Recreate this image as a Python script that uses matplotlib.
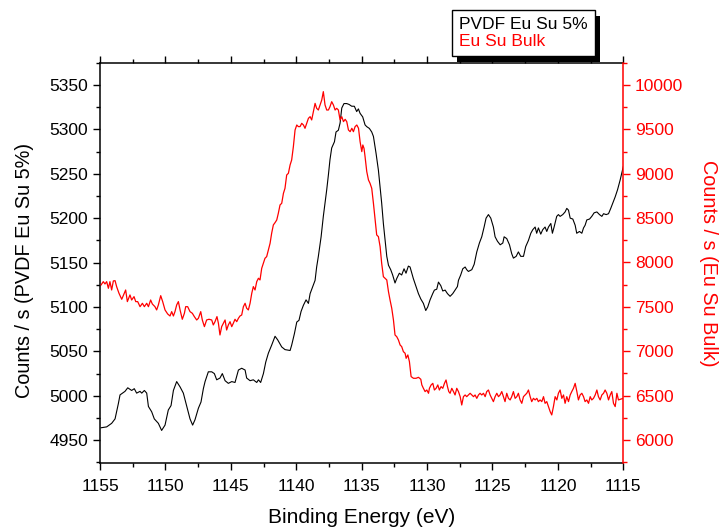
import matplotlib
matplotlib.use("Agg")
import matplotlib.pyplot as plt
from matplotlib.ticker import MultipleLocator
from matplotlib.lines import Line2D
from matplotlib.patches import Rectangle

plt.rcParams['font.family'] = ['Liberation Sans', 'DejaVu Sans']

# PVDF Eu Su 5% spectrum (binding energy in eV, counts / s)
energy_pvdf = [
    1154.92, 1154.49, 1154.11, 1153.85, 1153.60, 1153.47, 1153.09, 1152.88, 1152.58, 1152.38,
    1152.20, 1151.94, 1151.81, 1151.61, 1151.43, 1151.30, 1151.05, 1150.85, 1150.54, 1150.29,
    1150.03, 1149.78, 1149.57, 1149.39, 1149.14, 1148.88, 1148.63, 1148.37, 1148.12, 1147.92,
    1147.74, 1147.48, 1147.28, 1147.10, 1146.97, 1146.72, 1146.46, 1146.26, 1146.08, 1145.83,
    1145.65, 1145.44, 1145.19, 1144.93, 1144.68, 1144.42, 1144.17, 1143.91, 1143.79, 1143.53,
    1143.28, 1143.02, 1142.89, 1142.72, 1142.51, 1142.33, 1142.13, 1141.88, 1141.62, 1141.42,
    1141.11, 1140.86, 1140.47, 1140.35, 1140.14, 1139.96, 1139.79, 1139.63, 1139.45, 1139.25,
    1139.07, 1138.94, 1138.69, 1138.56, 1138.44, 1138.31, 1138.10, 1137.93, 1137.80, 1137.67,
    1137.54, 1137.42, 1137.29, 1137.08, 1136.96, 1136.78, 1136.65, 1136.52, 1136.35, 1136.14,
    1135.96, 1135.76, 1135.56, 1135.38, 1135.25, 1135.12, 1134.92, 1134.74, 1134.61, 1134.41,
    1134.23, 1134.10, 1133.90, 1133.72, 1133.59, 1133.47, 1133.34, 1133.21, 1133.08, 1132.95,
    1132.78, 1132.63, 1132.45, 1132.32, 1132.12, 1131.94, 1131.76, 1131.61, 1131.43, 1131.30,
    1131.17, 1131.05, 1130.84, 1130.66, 1130.48, 1130.28, 1130.10, 1129.95, 1129.77, 1129.57,
    1129.44, 1129.26, 1129.13, 1128.95, 1128.80, 1128.62, 1128.44, 1128.24, 1128.04, 1127.86,
    1127.68, 1127.60, 1127.43, 1127.27, 1127.09, 1126.97, 1126.84, 1126.58, 1126.40, 1126.20,
    1126.00, 1125.82, 1125.64, 1125.49, 1125.31, 1125.13, 1124.93, 1124.80, 1124.62, 1124.41,
    1124.21, 1124.11, 1123.91, 1123.70, 1123.53, 1123.40, 1123.19, 1123.02, 1122.84, 1122.63,
    1122.46, 1122.25, 1122.07, 1121.92, 1121.74, 1121.62, 1121.49, 1121.31, 1121.16, 1120.98,
    1120.85, 1120.72, 1120.54, 1120.42, 1120.29, 1120.09, 1119.96, 1119.83, 1119.63, 1119.45,
    1119.32, 1119.19, 1119.06, 1118.86, 1118.68, 1118.56, 1118.35, 1118.17, 1118.04, 1117.92,
    1117.79, 1117.58, 1117.41, 1117.23, 1117.02, 1116.82, 1116.64, 1116.51, 1116.31, 1116.13,
    1115.96, 1115.80, 1115.62, 1115.44, 1115.24, 1115.11, 1115.00,
]
counts_pvdf = [
    4964, 4965, 4969, 4974, 4991, 5001, 5005, 5009, 5006, 5008,
    5003, 5005, 5003, 5006, 5003, 4988, 4982, 4974, 4969, 4961,
    4967, 4984, 4989, 5006, 5016, 5010, 5003, 4988, 4974, 4967,
    4973, 4986, 4993, 5008, 5016, 5027, 5027, 5025, 5018, 5020,
    5025, 5017, 5014, 5016, 5015, 5029, 5031, 5029, 5020, 5017,
    5018, 5015, 5018, 5015, 5025, 5038, 5048, 5057, 5067, 5063,
    5055, 5052, 5051, 5057, 5070, 5083, 5085, 5095, 5102, 5108,
    5104, 5115, 5125, 5130, 5145, 5157, 5179, 5202, 5217, 5232,
    5249, 5266, 5279, 5286, 5297, 5299, 5307, 5324, 5329, 5329,
    5328, 5326, 5326, 5320, 5323, 5318, 5314, 5305, 5303, 5301,
    5297, 5292, 5273, 5254, 5235, 5217, 5194, 5175, 5157, 5147,
    5142, 5136, 5127, 5132, 5138, 5136, 5143, 5138, 5146, 5145,
    5138, 5132, 5123, 5115, 5109, 5104, 5096, 5100, 5108, 5115,
    5119, 5120, 5128, 5124, 5118, 5119, 5115, 5112, 5115, 5119,
    5123, 5130, 5136, 5143, 5145, 5142, 5140, 5142, 5148, 5162,
    5172, 5179, 5190, 5200, 5204, 5200, 5190, 5179, 5174, 5170,
    5172, 5179, 5177, 5170, 5160, 5155, 5157, 5162, 5157, 5157,
    5168, 5175, 5183, 5187, 5190, 5183, 5189, 5182, 5187, 5190,
    5185, 5190, 5194, 5183, 5190, 5202, 5204, 5202, 5204, 5207,
    5211, 5209, 5200, 5199, 5192, 5183, 5185, 5183, 5189, 5192,
    5198, 5199, 5202, 5206, 5207, 5204, 5202, 5205, 5204, 5205,
    5211, 5217, 5224, 5232, 5243, 5251, 5258,
]

# Eu Su Bulk spectrum (binding energy in eV, counts / s)
energy_bulk = [
    1154.92, 1154.75, 1154.62, 1154.49, 1154.36, 1154.24, 1154.11, 1153.98, 1153.85, 1153.73,
    1153.55, 1153.34, 1153.14, 1153.04, 1152.91, 1152.71, 1152.58, 1152.40, 1152.27, 1152.12,
    1151.94, 1151.76, 1151.61, 1151.43, 1151.30, 1151.13, 1151.00, 1150.80, 1150.67, 1150.54,
    1150.36, 1150.21, 1150.03, 1149.83, 1149.65, 1149.52, 1149.39, 1149.27, 1149.14, 1149.01,
    1148.88, 1148.71, 1148.55, 1148.45, 1148.30, 1148.12, 1147.94, 1147.79, 1147.61, 1147.48,
    1147.30, 1147.18, 1147.02, 1146.85, 1146.67, 1146.46, 1146.34, 1146.21, 1146.06, 1145.95,
    1145.83, 1145.70, 1145.57, 1145.44, 1145.32, 1145.19, 1145.06, 1144.93, 1144.81, 1144.68,
    1144.55, 1144.42, 1144.30, 1144.17, 1144.04, 1143.91, 1143.79, 1143.66, 1143.53, 1143.40,
    1143.28, 1143.15, 1143.02, 1142.89, 1142.77, 1142.64, 1142.51, 1142.39, 1142.26, 1142.13,
    1142.00, 1141.88, 1141.75, 1141.62, 1141.49, 1141.37, 1141.24, 1141.11, 1140.98, 1140.86,
    1140.73, 1140.60, 1140.47, 1140.35, 1140.22, 1140.09, 1139.96, 1139.84, 1139.71, 1139.58,
    1139.45, 1139.33, 1139.20, 1139.07, 1138.94, 1138.82, 1138.69, 1138.56, 1138.44, 1138.31,
    1138.18, 1138.05, 1137.93, 1137.80, 1137.67, 1137.54, 1137.42, 1137.29, 1137.16, 1137.03,
    1136.91, 1136.78, 1136.65, 1136.52, 1136.39, 1136.26, 1136.14, 1136.01, 1135.88, 1135.75,
    1135.63, 1135.50, 1135.37, 1135.24, 1135.12, 1134.99, 1134.91, 1134.82, 1134.74, 1134.61,
    1134.48, 1134.36, 1134.23, 1134.10, 1133.97, 1133.85, 1133.72, 1133.59, 1133.47, 1133.34,
    1133.21, 1133.08, 1132.95, 1132.83, 1132.70, 1132.57, 1132.45, 1132.32, 1132.19, 1132.06,
    1131.94, 1131.81, 1131.68, 1131.60, 1131.47, 1131.35, 1131.22, 1131.04, 1130.84, 1130.66,
    1130.48, 1130.40, 1130.28, 1130.15, 1130.02, 1129.89, 1129.82, 1129.69, 1129.56, 1129.44,
    1129.31, 1129.18, 1129.06, 1128.93, 1128.80, 1128.67, 1128.55, 1128.44, 1128.34, 1128.24,
    1128.11, 1127.98, 1127.86, 1127.73, 1127.60, 1127.47, 1127.35, 1127.22, 1127.09, 1126.97,
    1126.84, 1126.71, 1126.58, 1126.45, 1126.33, 1126.20, 1126.07, 1125.95, 1125.82, 1125.69,
    1125.56, 1125.44, 1125.31, 1125.18, 1125.05, 1124.93, 1124.80, 1124.67, 1124.54, 1124.42,
    1124.29, 1124.16, 1124.04, 1123.91, 1123.78, 1123.65, 1123.53, 1123.40, 1123.27, 1123.14,
    1123.02, 1122.89, 1122.76, 1122.63, 1122.51, 1122.38, 1122.25, 1122.12, 1122.00, 1121.87,
    1121.74, 1121.61, 1121.49, 1121.36, 1121.23, 1121.10, 1120.98, 1120.85, 1120.72, 1120.59,
    1120.47, 1120.34, 1120.21, 1120.08, 1119.96, 1119.83, 1119.70, 1119.57, 1119.45, 1119.32,
    1119.19, 1119.06, 1118.94, 1118.81, 1118.68, 1118.55, 1118.43, 1118.30, 1118.17, 1118.04,
    1117.92, 1117.79, 1117.66, 1117.53, 1117.41, 1117.28, 1117.15, 1117.02, 1116.90, 1116.77,
    1116.64, 1116.51, 1116.39, 1116.26, 1116.13, 1116.00, 1115.88, 1115.75, 1115.62, 1115.49,
    1115.37, 1115.24, 1115.00,
]
counts_bulk = [
    7747, 7784, 7758, 7784, 7709, 7784, 7690, 7792, 7795, 7728,
    7653, 7585, 7653, 7690, 7559, 7634, 7577, 7615, 7559, 7559,
    7502, 7540, 7502, 7540, 7502, 7577, 7532, 7502, 7465, 7521,
    7626, 7559, 7465, 7420, 7397, 7446, 7397, 7446, 7521, 7559,
    7465, 7360, 7427, 7502, 7502, 7446, 7427, 7390, 7352, 7371,
    7446, 7352, 7277, 7352, 7360, 7352, 7296, 7333, 7390, 7315,
    7183, 7277, 7315, 7352, 7239, 7296, 7333, 7277, 7315, 7360,
    7333, 7371, 7397, 7408, 7502, 7540, 7484, 7465, 7540, 7653,
    7728, 7690, 7784, 7822, 7803, 7934, 7991, 8047, 8066, 8141,
    8216, 8329, 8423, 8449, 8479, 8554, 8648, 8667, 8779, 8836,
    8986, 9005, 9099, 9155, 9305, 9493, 9549, 9531, 9531, 9568,
    9549, 9512, 9568, 9624, 9643, 9606, 9700, 9793, 9737, 9718,
    9775, 9831, 9925, 9775, 9718, 9718, 9756, 9812, 9775, 9718,
    9737, 9718, 9606, 9643, 9587, 9613, 9587, 9493, 9474, 9512,
    9474, 9531, 9549, 9512, 9362, 9249, 9324, 9286, 9193, 9024,
    8930, 8892, 8836, 8667, 8479, 8310, 8291, 8178, 7991, 7840,
    7822, 7803, 7671, 7577, 7484, 7352, 7183, 7164, 7127, 7070,
    7052, 6995, 6977, 6920, 6958, 6883, 6714, 6695, 6695, 6706,
    6684, 6620, 6582, 6545, 6563, 6526, 6582, 6620, 6638, 6563,
    6582, 6620, 6563, 6601, 6582, 6638, 6676, 6601, 6545, 6526,
    6582, 6545, 6507, 6582, 6545, 6488, 6394, 6488, 6507, 6488,
    6507, 6526, 6507, 6488, 6507, 6469, 6507, 6526, 6507, 6526,
    6488, 6545, 6563, 6507, 6469, 6432, 6488, 6526, 6488, 6507,
    6545, 6488, 6432, 6526, 6469, 6451, 6488, 6545, 6469, 6488,
    6526, 6451, 6413, 6488, 6507, 6526, 6563, 6488, 6432, 6469,
    6451, 6469, 6432, 6451, 6432, 6488, 6413, 6432, 6376, 6319,
    6282, 6376, 6488, 6451, 6526, 6563, 6469, 6507, 6413, 6488,
    6432, 6507, 6545, 6582, 6638, 6545, 6451, 6507, 6526, 6488,
    6432, 6451, 6413, 6488, 6451, 6469, 6507, 6563, 6488, 6451,
    6507, 6526, 6563, 6526, 6451, 6507, 6545, 6413, 6376, 6526,
    6451, 6458, 6469,
]

labels = ["PVDF Eu Su 5%", "Eu Su Bulk"]
x_ticks = [1155, 1150, 1145, 1140, 1135, 1130, 1125, 1120, 1115]

fig = plt.figure(figsize=(7.2, 5.31), dpi=100)
ax = fig.add_axes([0.1389, 0.1275, 0.7268, 0.7544])
ax2 = ax.twinx()

ax.plot(energy_pvdf, counts_pvdf, color="black", lw=0.8)
ax2.plot(energy_bulk, counts_bulk, color="red", lw=0.9)

ax.set_xlim(1155, 1115)
ax.set_ylim(4924, 5375)
ax2.set_ylim(5737, 10251)

ax.set_xticks(x_ticks)
ax.xaxis.set_minor_locator(MultipleLocator(2.5))
ax.yaxis.set_major_locator(MultipleLocator(50))
ax.yaxis.set_minor_locator(MultipleLocator(25))
ax2.yaxis.set_major_locator(MultipleLocator(500))
ax2.yaxis.set_minor_locator(MultipleLocator(250))

for a in (ax, ax2):
    for s in a.spines.values():
        s.set_linewidth(1.1)
ax.spines["right"].set_visible(False)
ax2.spines["left"].set_visible(False)
ax2.spines["top"].set_visible(False)
ax2.spines["bottom"].set_visible(False)
ax2.spines["right"].set_color("red")

ax.tick_params(axis="both", which="both", direction="out", width=1.0,
               labelsize=12.5, top=True, labeltop=False, right=False)
ax.tick_params(which="major", length=5)
ax.tick_params(which="minor", length=3)
ax.tick_params(axis="x", which="major", pad=6)
ax2.tick_params(axis="y", which="both", direction="out", width=1.0,
                colors="red", labelsize=12.5)
ax2.tick_params(which="major", length=5)
ax2.tick_params(which="minor", length=3)

ax.set_xlabel("Binding Energy (eV)", fontsize=15)
ax.xaxis.set_label_coords(0.5, -0.112)
ax.set_ylabel("Counts / s (PVDF Eu Su 5%)", fontsize=14.3)
ax.yaxis.set_label_coords(-0.127, 0.481)
ax2.set_ylabel("Counts / s (Eu Su Bulk)", fontsize=14.3, color="red",
               rotation=270, labelpad=25)

handles = [Line2D([], [], lw=0), Line2D([], [], lw=0)]
leg = fig.legend(handles, labels, loc="upper left",
                 bbox_to_anchor=(0.628, 0.981), borderaxespad=0,
                 handlelength=0, handletextpad=0, fontsize=12.5,
                 labelcolor=["black", "red"], frameon=True, fancybox=False,
                 framealpha=1, facecolor="white",
                 borderpad=0.4, labelspacing=0.1)
leg.get_frame().set_edgecolor("black")
leg.get_frame().set_linewidth(1.0)
leg.set_zorder(10)

# solid drop shadow under the legend box
fig.canvas.draw()
bb = leg.get_window_extent()
shadow = Rectangle((bb.x0 + 5, bb.y0 - 6), bb.width, bb.height,
                   transform=None, facecolor="black", edgecolor="none",
                   zorder=9)
fig.add_artist(shadow)

fig.savefig("out.png", dpi=100)
